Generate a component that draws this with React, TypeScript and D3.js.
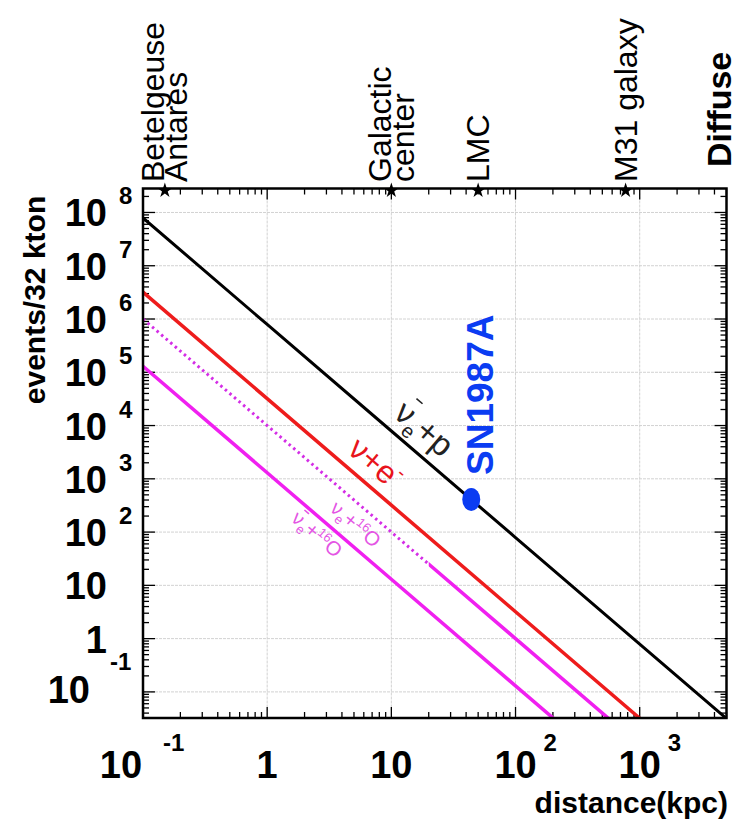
import React, { useEffect, useRef } from 'react';
import * as d3 from 'd3';

// distance grid (kpc) and expected events/32 kton for each channel
const distances = [0.1, 1, 10, 100, 1000, 10000];
const antiNuEP = [7.9e7, 7.9e5, 7.9e3, 79, 0.79, 0.0079];
const nuElastic = [3.2e6, 3.2e4, 320, 3.2, 0.032, 0.00032];
const nuEO16 = [1.0e6, 1.0e4, 100, 1, 0.01, 0.0001];
const antiNuEO16 = [1.3e5, 1300, 13, 0.13, 0.0013, 0.000013];

// named sources on the top axis
const sourceNames = [['Betelgeuse', 'Antares'], ['Galactic', 'center'], ['LMC'], ['M31 galaxy']];
const sourceDistances = [0.15, 10, 50, 770];

const sn1987a = { name: 'SN1987A', distance: 44, events: 410 };

const xTickValues = [0.1, 1, 10, 100, 1000];
const xTickBase = ['10', '1', '10', '10', '10'];
const xTickExp = ['-1', '', '', '2', '3'];
const yTickValues = [0.1, 1, 10, 100, 1e3, 1e4, 1e5, 1e6, 1e7, 1e8];
const yTickBase = ['10', '1', '10', '10', '10', '10', '10', '10', '10', '10'];
const yTickExp = ['-1', '', '', '2', '3', '4', '5', '6', '7', '8'];

const FONT = 'Liberation Sans, Arial, Helvetica, sans-serif';

const App = () => {
  const ref = useRef<SVGSVGElement>(null);

  useEffect(() => {
    const svg = d3.select(ref.current);
    svg.selectAll('*').remove();

    const width = 738, height = 825;
    const left = 143, right = 726.5, top = 188.5, bottom = 718;

    svg.append('rect').attr('width', width).attr('height', height).attr('fill', '#fff');

    const x = d3.scaleLog().domain([0.1, 5000]).range([left, right]);
    const y = d3.scaleLog().domain([Math.pow(10, -1.49), Math.pow(10, 8.45)]).range([bottom, top]);

    // grid
    const grid = svg.append('g').attr('stroke', '#d2d2d2').attr('stroke-width', 1).attr('stroke-dasharray', '3,1');
    grid.selectAll('line.gx')
      .data([1, 10, 100, 1000])
      .join('line')
        .attr('x1', d => x(d)).attr('x2', d => x(d))
        .attr('y1', top).attr('y2', bottom);
    grid.selectAll('line.gy')
      .data(yTickValues)
      .join('line')
        .attr('x1', left).attr('x2', right)
        .attr('y1', d => y(d)).attr('y2', d => y(d));

    // ticks (inside the frame, all four sides)
    const xMinor: number[] = [];
    [0.1, 1, 10, 100, 1000].forEach(dec => {
      for (let k = 1; k <= 9; k++) if (dec * k <= 5000) xMinor.push(dec * k);
    });
    const yMinor: number[] = [];
    [0.01, 0.1, 1, 10, 100, 1e3, 1e4, 1e5, 1e6, 1e7, 1e8].forEach(dec => {
      for (let k = 1; k <= 9; k++) {
        const v = dec * k;
        if (v >= y.domain()[0] && v <= y.domain()[1]) yMinor.push(v);
      }
    });
    const isMajor = (v: number) => Math.abs(Math.log10(v) - Math.round(Math.log10(v))) < 1e-6;
    const ticks = svg.append('g').attr('stroke', '#000').attr('stroke-width', 1.3);
    xMinor.forEach(v => {
      const len = isMajor(v) ? 11 : 6;
      ticks.append('line').attr('x1', x(v)).attr('x2', x(v)).attr('y1', bottom).attr('y2', bottom - len);
      ticks.append('line').attr('x1', x(v)).attr('x2', x(v)).attr('y1', top).attr('y2', top + len);
    });
    yMinor.forEach(v => {
      const len = isMajor(v) ? 12 : 6;
      ticks.append('line').attr('x1', left).attr('x2', left + len).attr('y1', y(v)).attr('y2', y(v));
      ticks.append('line').attr('x1', right).attr('x2', right - len).attr('y1', y(v)).attr('y2', y(v));
    });

    // curves
    const dotEnd = 20; // the dotted curve turns solid past ~20 kpc in the original
    const defs = svg.append('defs');
    defs.append('clipPath').attr('id', 'plot-clip')
      .append('rect').attr('x', left).attr('y', top).attr('width', right - left).attr('height', bottom - top);
    defs.append('clipPath').attr('id', 'near-clip')
      .append('rect').attr('x', left).attr('y', top).attr('width', x(dotEnd) - left).attr('height', bottom - top);
    defs.append('clipPath').attr('id', 'far-clip')
      .append('rect').attr('x', x(dotEnd)).attr('y', top).attr('width', right - x(dotEnd)).attr('height', bottom - top);

    const line = d3.line<[number, number]>().x(d => x(d[0])).y(d => y(d[1]));
    const series = [
      { values: antiNuEP, color: '#000000', width: 3, dash: null, clip: 'plot-clip' },
      { values: nuElastic, color: '#ee1c1c', width: 3.5, dash: null, clip: 'plot-clip' },
      { values: nuEO16, color: '#d42ee6', width: 3, dash: '2.5,3.5', clip: 'near-clip' },
      { values: nuEO16, color: '#f020f0', width: 3.5, dash: null, clip: 'far-clip' },
      { values: antiNuEO16, color: '#f020f0', width: 3.5, dash: null, clip: 'plot-clip' },
    ];
    series.forEach(s => {
      svg.append('g').attr('clip-path', `url(#${s.clip})`)
        .append('path')
        .datum(distances.map((d, i) => [d, s.values[i]] as [number, number]))
        .attr('d', line)
        .attr('fill', 'none')
        .attr('stroke', s.color)
        .attr('stroke-width', s.width)
        .attr('stroke-dasharray', s.dash);
    });

    // labels along the curves
    const addLabel = (values: number[], at: number, offset: number, color: string, size: number,
      parts: { t: string; dy?: number; size?: number; dx?: number }[], bar?: [number, number, number]) => {
      const py = d3.scaleLog().domain(distances).range(values.map(v => y(v)));
      const angle = Math.atan2(py(at * 10) - py(at), x(at * 10) - x(at)) * 180 / Math.PI;
      const g = svg.append('g').attr('transform', `translate(${x(at)},${py(at)}) rotate(${angle})`);
      const t = g.append('text').attr('x', 0).attr('y', offset).attr('fill', color)
        .attr('font-family', FONT).attr('font-size', size);
      parts.forEach(p => {
        t.append('tspan').attr('dy', p.dy || 0).attr('dx', p.dx || 0)
          .attr('font-size', p.size || size).text(p.t);
      });
      if (bar) {
        g.append('line').attr('x1', bar[0]).attr('x2', bar[1]).attr('y1', offset + bar[2]).attr('y2', offset + bar[2])
          .attr('stroke', color).attr('stroke-width', 1.6);
      }
    };
    addLabel(antiNuEP, 8.8, -12, '#222', 33,
      [{ t: 'ν' }, { t: 'e', dy: 8, size: 20 }, { t: '+p', dy: -8 }], [7, 15, -29]);
    addLabel(nuElastic, 3.8, -11, '#e8141c', 32,
      [{ t: 'ν+e' }, { t: '-', dy: -14, size: 20 }]);
    addLabel(nuEO16, 4.2, 24, '#e455e4', 20,
      [{ t: 'ν' }, { t: 'e', dy: 5, size: 13 }, { t: '+', dy: -5 }, { t: '16', dy: -7, size: 13 }, { t: 'O', dy: 7 }]);
    addLabel(antiNuEO16, 1.98, 21, '#e455e4', 20,
      [{ t: 'ν' }, { t: 'e', dy: 5, size: 13 }, { t: '+', dy: -5 }, { t: '16', dy: -7, size: 13 }, { t: 'O', dy: 7 }], [4, 10, -17]);

    // frame
    svg.append('rect')
      .attr('x', left).attr('y', top).attr('width', right - left).attr('height', bottom - top)
      .attr('fill', 'none').attr('stroke', '#000').attr('stroke-width', 2.5);

    // source markers on top axis
    const star = d3.symbol().type(d3.symbolStar).size(70);
    sourceDistances.forEach((d, i) => {
      svg.append('path').attr('d', star).attr('transform', `translate(${x(d)},${top + 2})`).attr('fill', '#000');
      const names = sourceNames[i];
      names.forEach((n, j) => {
        const cx = x(d) + (j - (names.length - 1) / 2) * 23 + 11;
        svg.append('text')
          .attr('transform', `translate(${cx},182) rotate(-90)`)
          .attr('font-family', FONT).attr('font-size', 32).attr('fill', '#000')
          .text(n);
      });
    });
    svg.append('text')
      .attr('transform', 'translate(731,167) rotate(-90)')
      .attr('font-family', FONT).attr('font-size', 34).attr('font-weight', 'bold')
      .text('Diffuse');

    // SN1987A
    svg.append('ellipse')
      .attr('cx', x(sn1987a.distance)).attr('cy', y(sn1987a.events))
      .attr('rx', 9).attr('ry', 11.5).attr('fill', '#0b3cf2');
    svg.append('text')
      .attr('transform', `translate(${x(sn1987a.distance) + 22},475) rotate(-90)`)
      .attr('font-family', FONT).attr('font-size', 37).attr('font-weight', 'bold').attr('fill', '#0b3cf2')
      .text(sn1987a.name);

    // axis labels
    const lab = svg.append('g').attr('font-family', FONT).attr('font-weight', 'bold').attr('fill', '#000');
    yTickValues.forEach((v, i) => {
      const neg = yTickExp[i].startsWith('-');
      const ty = y(v);
      lab.append('text').attr('x', neg ? 90 : 107).attr('y', ty + (neg ? 11 : 14))
        .attr('text-anchor', 'end').attr('font-size', 38).text(yTickBase[i]);
      if (yTickExp[i]) {
        lab.append('text').attr('x', neg ? 110 : 119).attr('y', ty + (neg ? -22 : -8))
          .attr('font-size', 24).text(yTickExp[i]);
      }
    });
    xTickValues.forEach((v, i) => {
      const neg = xTickExp[i].startsWith('-');
      const tx = x(v);
      lab.append('text').attr('x', tx + (neg ? -22 : 0)).attr('y', 778)
        .attr('text-anchor', 'middle').attr('font-size', 38).text(xTickBase[i]);
      if (xTickExp[i]) {
        lab.append('text').attr('x', tx + (neg ? 20 : 28)).attr('y', 751)
          .attr('font-size', 24).text(xTickExp[i]);
      }
    });
    lab.append('text').attr('x', 728).attr('y', 813).attr('text-anchor', 'end')
      .attr('font-size', 30).text('distance(kpc)');
    lab.append('text').attr('transform', 'translate(45,300) rotate(-90)').attr('text-anchor', 'middle')
      .attr('font-size', 30).text('events/32 kton');
  }, []);

  return (
    <svg ref={ref} width={738} height={825} style={{ position: 'absolute', left: 0, top: 0 }}></svg>
  );
};

export default App;
